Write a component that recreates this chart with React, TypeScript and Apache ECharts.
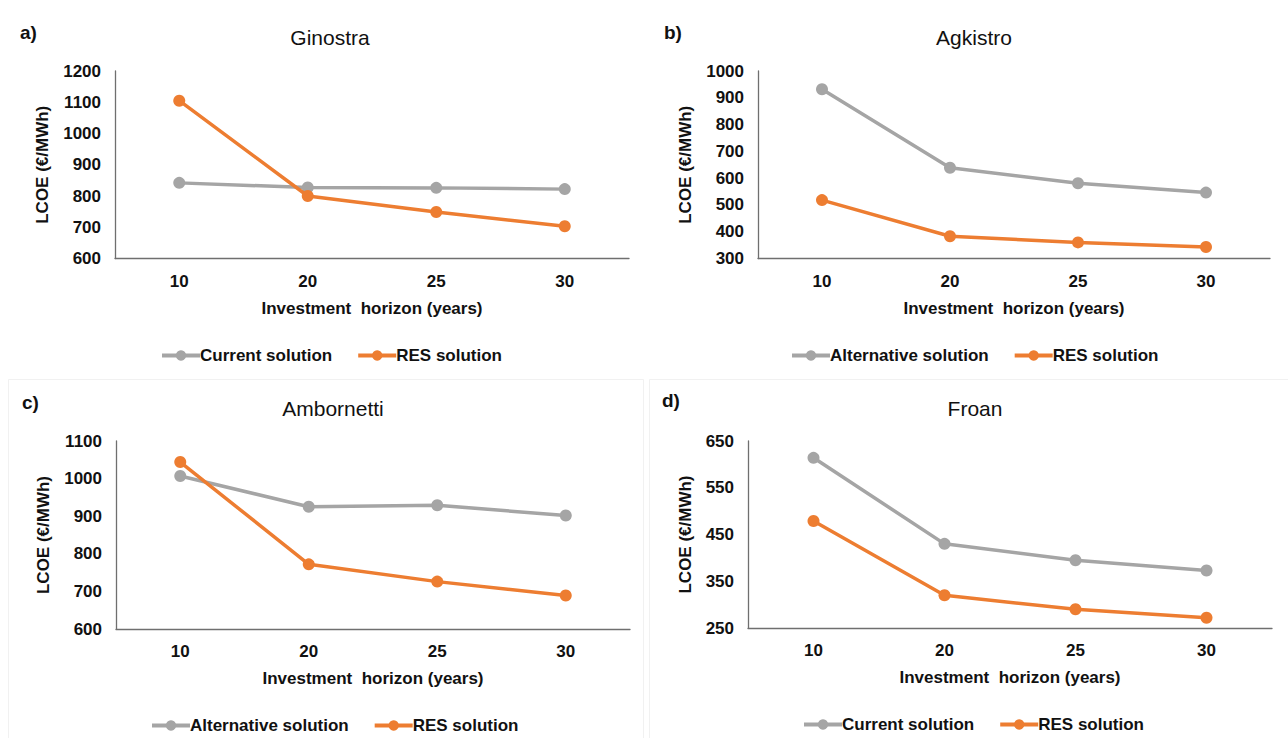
import React, { useEffect, useRef } from "react";
import * as echarts from "echarts";

const categories = ["10", "20", "25", "30"];

const ginostraCurrent = [842, 827, 826, 822];
const ginostraRES = [1105, 800, 749, 703];
const agkistroAlternative = [932, 639, 581, 546];
const agkistroRES = [518, 383, 360, 343];
const ambornettiAlternative = [1007, 925, 929, 902];
const ambornettiRES = [1044, 772, 726, 689];
const froanCurrent = [614, 430, 395, 373];
const froanRES = [479, 320, 290, 272];

const panelTitles = ["Ginostra", "Agkistro", "Ambornetti", "Froan"];
const panelLetters = ["a)", "b)", "c)", "d)"];
const yRanges = [
  { min: 600, max: 1200, interval: 100 },
  { min: 300, max: 1000, interval: 100 },
  { min: 600, max: 1100, interval: 100 },
  { min: 250, max: 650, interval: 100 },
];
const xAxisTitle = "Investment  horizon (years)";
const yAxisTitle = "LCOE (€/MWh)";

const GRAY = "#A5A5A5";
const ORANGE = "#ED7D31";
const FONT = "'Liberation Sans', Arial, sans-serif";

export default function App() {
  const ref = useRef<HTMLDivElement>(null);
  useEffect(() => {
    if (!ref.current) return;
    const chart = echarts.init(ref.current, null, { renderer: "svg" });

    const grids = [
      { left: 115, top: 71, width: 514, height: 187.5 },
      { left: 758, top: 71, width: 512, height: 187.5 },
      { left: 116, top: 441, width: 514, height: 188 },
      { left: 748, top: 441, width: 524, height: 187 },
    ];
    const titlePos = [
      { x: 330, y: 37 },
      { x: 974, y: 37 },
      { x: 333, y: 408 },
      { x: 975, y: 408 },
    ];
    const letterPos = [
      { x: 20, y: 32 },
      { x: 664, y: 32 },
      { x: 22, y: 402 },
      { x: 662, y: 400 },
    ];
    const legendPos = [
      { left: 155, top: 342 },
      { left: 785, top: 342 },
      { left: 145, top: 712 },
      { left: 797, top: 711 },
    ];
    const legendNames = [
      ["Current solution", "RES solution"],
      ["Alternative solution", "RES solution"],
      ["Alternative solution", "RES solution"],
      ["Current solution", "RES solution"],
    ];
    const seriesData = [
      [ginostraCurrent, ginostraRES],
      [agkistroAlternative, agkistroRES],
      [ambornettiAlternative, ambornettiRES],
      [froanCurrent, froanRES],
    ];

    const axisLine = { show: true, lineStyle: { color: "#6f6f6f", width: 1.3 } };
    const labelStyle = { color: "#111", fontSize: 17, fontWeight: "bold" as const, fontFamily: FONT };

    const xAxis = grids.map((_, i) => ({
      type: "category" as const,
      gridIndex: i,
      data: categories,
      boundaryGap: true,
      axisLine,
      axisTick: { show: false },
      axisLabel: { ...labelStyle, margin: 14 },
      name: xAxisTitle,
      nameLocation: "middle" as const,
      nameGap: 41,
      nameTextStyle: { ...labelStyle },
    }));
    const yAxis = grids.map((_, i) => ({
      type: "value" as const,
      gridIndex: i,
      min: yRanges[i].min,
      max: yRanges[i].max,
      interval: yRanges[i].interval,
      axisLine,
      axisTick: { show: false },
      splitLine: { show: false },
      axisLabel: { ...labelStyle, margin: 14, formatter: (v: number) => String(v) },
      name: yAxisTitle,
      nameLocation: "middle" as const,
      nameRotate: 90,
      nameGap: i === 3 ? 54 : 64,
      nameTextStyle: { ...labelStyle },
    }));

    const series: any[] = [];
    seriesData.forEach((pair, i) => {
      pair.forEach((d, j) => {
        series.push({
          type: "line",
          name: legendNames[i][j],
          xAxisIndex: i,
          yAxisIndex: i,
          data: d,
          symbol: "circle",
          symbolSize: 12,
          color: j === 0 ? GRAY : ORANGE,
          lineStyle: { width: 3.5, color: j === 0 ? GRAY : ORANGE },
          itemStyle: { color: j === 0 ? GRAY : ORANGE },
          z: j === 0 ? 2 : 3,
        });
      });
    });

    const legend = legendPos.map((p, i) => ({
      left: p.left,
      top: p.top,
      data: legendNames[i],
      itemWidth: 38,
      itemHeight: 13,
      itemGap: 24,
      selectedMode: false,
      lineStyle: { width: 4 },
      textStyle: { color: "#111", fontSize: 17, fontWeight: "bold" as const, fontFamily: FONT, padding: [0, 0, 0, -5] },
    }));

    const graphic: any[] = [
      {
        type: "rect",
        shape: { x: 8.5, y: 379.5, width: 635, height: 370 },
        style: { fill: "none", stroke: "#f1f1f1", lineWidth: 1 },
        silent: true,
      },
      {
        type: "rect",
        shape: { x: 649.5, y: 379.5, width: 650, height: 370 },
        style: { fill: "none", stroke: "#f1f1f1", lineWidth: 1 },
        silent: true,
      },
    ];
    panelTitles.forEach((t, i) => {
      graphic.push({
        type: "text",
        x: titlePos[i].x,
        y: titlePos[i].y,
        style: {
          text: t,
          fill: "#111",
          fontSize: 21,
          fontFamily: FONT,
          textAlign: "center",
          textVerticalAlign: "middle",
          align: "center",
          verticalAlign: "middle",
        },
      });
      graphic.push({
        type: "text",
        x: letterPos[i].x,
        y: letterPos[i].y,
        style: {
          text: panelLetters[i],
          fill: "#111",
          fontSize: 19,
          fontWeight: "bold",
          fontFamily: FONT,
          textAlign: "left",
          textVerticalAlign: "middle",
          align: "left",
          verticalAlign: "middle",
        },
      });
    });

    chart.setOption({
      animation: false,
      backgroundColor: "#ffffff",
      grid: grids,
      xAxis,
      yAxis,
      series,
      legend,
      graphic,
    });
    return () => chart.dispose();
  }, []);
  return (
    <div
      ref={ref}
      style={{ position: "absolute", left: 0, top: 0, width: 1288, height: 738, background: "#fff" }}
    />
  );
}
